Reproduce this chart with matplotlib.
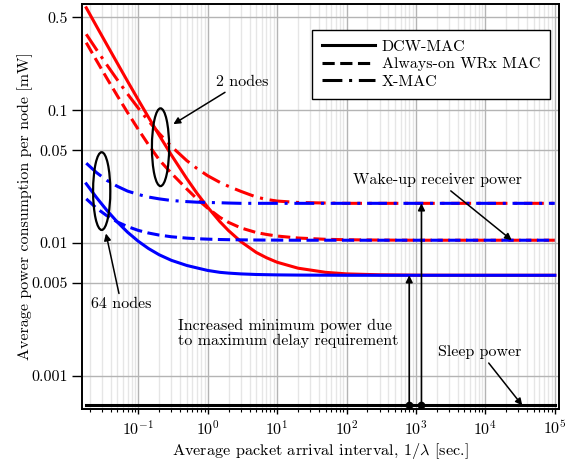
import numpy as np
import matplotlib
matplotlib.use("Agg")
import matplotlib.pyplot as plt
from matplotlib.patches import Ellipse
from matplotlib.lines import Line2D
from matplotlib.ticker import LogLocator, LogFormatterMathtext, FixedLocator, FixedFormatter, NullFormatter

plt.rcParams['font.family'] = ['cmr10', 'DejaVu Serif']
plt.rcParams['mathtext.fontset'] = 'cm'
plt.rcParams['axes.unicode_minus'] = False
plt.rcParams['axes.formatter.use_mathtext'] = True

# ---------------- data ----------------
interval = [0.0178, 0.025, 0.035, 0.05, 0.07, 0.1, 0.14, 0.2, 0.3, 0.5, 0.7, 1, 1.5, 2, 3,
            5, 7, 10, 20, 50, 100, 300, 1000, 1e4, 1e5]

dcw_2 = [0.589, 0.428, 0.313, 0.225, 0.165, 0.1195, 0.0885, 0.0647, 0.0459, 0.0305, 0.0237,
         0.0186, 0.01447, 0.01239, 0.01026, 0.0085, 0.00776, 0.00717, 0.00647, 0.00602,
         0.00586, 0.00577, 0.00573, 0.00572, 0.00572]
xmac_2 = [0.3726, 0.2854, 0.2203, 0.1688, 0.1324, 0.1035, 0.0830, 0.0668, 0.0533, 0.0417, 0.0364,
          0.0321, 0.0286, 0.0267, 0.0245, 0.0222, 0.0213, 0.0207, 0.0202, 0.0200,
          0.0199, 0.0199, 0.0199, 0.0199, 0.0199]
aon_2 = [0.3217, 0.2364, 0.1749, 0.128, 0.096, 0.0716, 0.055, 0.0423, 0.0335, 0.0255, 0.0215,
         0.0183, 0.0156, 0.0143, 0.0130, 0.0120, 0.01161, 0.01129, 0.01091, 0.01067,
         0.01059, 0.01053, 0.0105, 0.0105, 0.0105]
dcw_64 = [0.0279, 0.0220, 0.0177, 0.01437, 0.01207, 0.01031, 0.0091, 0.00816, 0.00741, 0.00678,
          0.0065, 0.00622, 0.00602, 0.00594, 0.00586, 0.0058, 0.00578, 0.00576, 0.00574,
          0.00573, 0.00572, 0.00572, 0.00572, 0.00572, 0.00572]
xmac_64 = [0.0399, 0.0339, 0.0297, 0.0267, 0.0246, 0.0232, 0.0222, 0.0215, 0.0209, 0.0205,
           0.0203, 0.0202, 0.0201, 0.0200, 0.0199, 0.0199, 0.0199, 0.0199, 0.0199, 0.0199,
           0.0199, 0.0199, 0.0199, 0.0199, 0.0199]
aon_64 = [0.0215, 0.0183, 0.0161, 0.0144, 0.0133, 0.01245, 0.0119, 0.01148, 0.01115, 0.01089,
          0.01078, 0.0107, 0.01063, 0.0106, 0.01057, 0.01054, 0.01053, 0.01052, 0.0105, 0.0105,
          0.0105, 0.0105, 0.0105, 0.0105, 0.0105]
sleep_interval = [0.0178, 1e5]
sleep_power = [0.0006, 0.0006]
delay_bound_interval = [800, 1200]
delay_bound_power = [0.00572, 0.0199]

legend_labels = ["DCW-MAC", "Always-on WRx MAC", "X-MAC"]
xtick_values = [1e-1, 1e0, 1e1, 1e2, 1e3, 1e4, 1e5]
ytick_values = [0.5, 0.1, 0.05, 0.01, 0.005, 0.001]
ytick_labels = ["0.5", "0.1", "0.05", "0.01", "0.005", "0.001"]

# ---------------- figure ----------------
fig = plt.figure(figsize=(5.76, 4.61), dpi=100)
ax = fig.add_axes([0.1415, 0.1128, 0.829, 0.8785])
ax.set_xscale('log')
ax.set_yscale('log')
ax.set_xlim(0.0152, 1.15e5)
ax.set_ylim(0.000564, 0.629)

lw = 2.2
dash = (0, (4.0, 1.8))
dashdot = (0, (6.5, 2.2, 1.0, 2.2))

ax.plot(interval, dcw_2, color='#ff0000', lw=lw, ls='-', zorder=3)
ax.plot(interval, aon_2, color='#ff0000', lw=lw, ls=dash, zorder=3)
ax.plot(interval, xmac_2, color='#ff0000', lw=lw, ls=dashdot, zorder=3)
ax.plot(interval, dcw_64, color='#0000ff', lw=lw, ls='-', zorder=4)
ax.plot(interval, aon_64, color='#0000ff', lw=lw, ls=dash, zorder=4)
ax.plot(interval, xmac_64, color='#0000ff', lw=lw, ls=dashdot, zorder=4)
ax.plot(sleep_interval, sleep_power, color='black', lw=lw, zorder=4)

# delay-requirement arrows
for xv, yv in zip(delay_bound_interval, delay_bound_power):
    ax.annotate('', xy=(xv, yv), xytext=(xv, sleep_power[0]),
                arrowprops=dict(arrowstyle='-|>', color='black', lw=1.2,
                                mutation_scale=10, shrinkA=0, shrinkB=0), zorder=5)
    ax.plot([xv], [sleep_power[0]], 'o', color='black', ms=4.5, zorder=6)

# grid & ticks
ax.xaxis.set_major_locator(FixedLocator(xtick_values))
ax.xaxis.set_major_formatter(LogFormatterMathtext())
ax.xaxis.set_minor_locator(LogLocator(base=10, subs=np.arange(2, 10), numticks=50))
ax.xaxis.set_minor_formatter(NullFormatter())
ax.yaxis.set_major_locator(FixedLocator(ytick_values))
ax.yaxis.set_major_formatter(FixedFormatter(ytick_labels))
ax.yaxis.set_minor_locator(FixedLocator([]))
ax.grid(True, which='major', axis='both', color='#b4b4b4', lw=1.0, zorder=0)
ax.grid(True, which='minor', axis='x', color='#e6e6e6', lw=1.0, zorder=0)
ax.set_axisbelow(True)
ax.tick_params(axis='x', which='major', direction='out', length=3.5, width=1, labelsize=11.5, pad=4)
ax.tick_params(axis='x', which='minor', direction='out', length=2.5, width=0.8)
ax.tick_params(axis='y', which='major', direction='out', length=7, width=1, labelsize=11.5, pad=3)
for s in ax.spines.values():
    s.set_linewidth(1.4)

ax.set_xlabel(r'Average packet arrival interval, $1/\lambda$ [sec.]', fontsize=11.7)
ax.set_ylabel('Average power consumption per node [mW]', fontsize=11.5)
ax.xaxis.set_label_coords(0.5, -0.079)
ax.yaxis.set_label_coords(-0.102, 0.5)

# legend
handles = [Line2D([], [], color='black', lw=lw, ls='-'),
           Line2D([], [], color='black', lw=lw, ls=dash),
           Line2D([], [], color='black', lw=lw, ls=dashdot)]
leg = ax.legend(handles, legend_labels, loc='upper right', bbox_to_anchor=(0.981, 0.936),
                borderaxespad=0, fontsize=11.5, handlelength=3.3, handletextpad=0.45,
                labelspacing=0.22, borderpad=0.6, fancybox=False, framealpha=1,
                edgecolor='black')
leg.get_frame().set_linewidth(1.0)
leg.set_zorder(10)

# ellipses (axes-fraction sizes)
fig.canvas.draw()
def to_axes(x, y):
    return ax.transAxes.inverted().transform(ax.transData.transform((x, y)))

for (cx, cy) in [(0.209, 0.0526), (0.0297, 0.0246)]:
    c = to_axes(cx, cy)
    ax.add_patch(Ellipse(c, 0.036, 0.192, transform=ax.transAxes, fill=False,
                         edgecolor='black', lw=1.6, zorder=7))

arrow = dict(arrowstyle='-|>', color='black', lw=1.1, mutation_scale=10, shrinkA=1, shrinkB=0)
fs = 11.5
ax.annotate('2 nodes', xy=(0.32, 0.0785), xytext=(3.1, 0.163), fontsize=fs,
            ha='center', va='center', arrowprops=arrow, zorder=8)
ax.annotate('64 nodes', xy=(0.0342, 0.0118), xytext=(0.057, 0.00345), fontsize=fs,
            ha='center', va='center', arrowprops=arrow, zorder=8)
ax.annotate('Wake-up receiver power', xy=(24000, 0.0105), xytext=(2050, 0.0297), fontsize=fs,
            ha='center', va='center', arrowprops=arrow, zorder=8)
ax.annotate('Sleep power', xy=(34000, 0.0006), xytext=(8400, 0.00151), fontsize=fs,
            ha='center', va='center', arrowprops=arrow, zorder=8)
ax.text(0.373, 0.0021, 'Increased minimum power due\nto maximum delay requirement',
        fontsize=fs, ha='left', va='center', linespacing=1.05, zorder=8)

fig.savefig('out.png', dpi=100)
